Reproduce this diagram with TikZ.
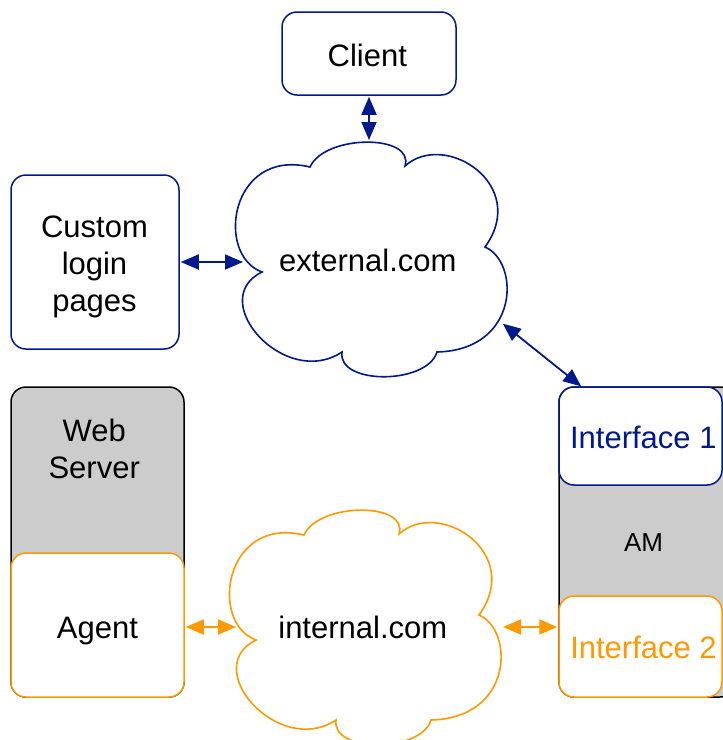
\documentclass[tikz,border=0pt]{standalone}
\usepackage{fontspec}
\setmainfont{Liberation Sans}
\usetikzlibrary{arrows.meta}
\definecolor{navy}{RGB}{0,25,140}
\definecolor{amber}{RGB}{255,153,0}
\definecolor{boxgray}{RGB}{204,204,204}
\begin{document}
\begin{tikzpicture}[x=1pt,y=-1pt,
  lbl/.style={anchor=base, inner sep=0pt, font=\fontsize{31}{37}\selectfont},
  rbox/.style={rounded corners=15pt, line width=1.5pt, inner sep=0pt, fill=white},
  graybox/.style={rbox, fill=boxgray, draw=black},
  conn/.style={line width=1.8pt, {Triangle[length=18pt,width=15pt]}-{Triangle[length=18pt,width=15pt]}, shorten <=1pt, shorten >=1pt},
  cloudline/.style={line width=1.6pt, fill=white, line join=miter}]
\useasboundingbox (0,0) rectangle (723,740);
\clip (0,0) rectangle (723,740);

% boxes
\node[rbox, draw=navy, minimum width=174pt, minimum height=83pt] (client) at (369,53.5) {};
\node[rbox, draw=navy, minimum width=168pt, minimum height=174pt] (custom) at (95,262) {};
\node[graybox, minimum width=173pt, minimum height=310pt] (web) at (97.5,542) {};
\node[rbox, draw=amber, minimum width=173pt, minimum height=144pt] (agent) at (97.5,625) {};
\node[graybox, minimum width=176pt, minimum height=310pt] (am) at (647,542) {};
\node[rbox, draw=navy, minimum width=163pt, minimum height=98pt] (i1) at (640.5,436) {};
\node[rbox, draw=amber, minimum width=163pt, minimum height=101pt] (i2) at (640.5,646.5) {};

% clouds
\draw[cloudline, draw=navy] (310,167) .. controls (325,134) and (415,134) .. (405,166)
 .. controls (445,130) and (530,185) .. (485,247)
 .. controls (520,262) and (520,350) .. (437,352)
 .. controls (427,385) and (337,385) .. (342,352)
 .. controls (285,390) and (205,300) .. (262,272)
 .. controls (215,255) and (230,148) .. (310,167) -- cycle;
\begin{scope}[shift={(-6,368)}]
\draw[cloudline, draw=amber] (310,167) .. controls (325,134) and (415,134) .. (405,166)
 .. controls (445,130) and (530,185) .. (485,247)
 .. controls (520,262) and (520,350) .. (437,352)
 .. controls (427,385) and (337,385) .. (342,352)
 .. controls (285,390) and (205,300) .. (262,272)
 .. controls (215,255) and (230,148) .. (310,167) -- cycle;
\end{scope}

% labels
\node[lbl] (clientt) at (367.3,66.7) {Client};
\node[lbl] (customt) at (94.5,237.7) {\begin{tabular}[t]{@{}c@{}}Custom\\login\\pages\end{tabular}};
\node[lbl] (webt) at (94.2,441.7) {\begin{tabular}[t]{@{}c@{}}Web\\Server\end{tabular}};
\node[lbl] (agentt) at (97.5,638.3) {Agent};
\node[lbl] (ext) at (367.8,271) {external.com};
\node[lbl] (int) at (362.8,638.3) {internal.com};
\node[lbl, text=navy] (i1t) at (643.3,448.3) {Interface 1};
\node[lbl, font=\fontsize{26}{31}\selectfont] (amt) at (643.5,551.7) {AM};
\node[lbl, text=amber] (i2t) at (643.5,658.3) {Interface 2};

% connector end points on the clouds / boxes
\coordinate (extN) at (369,141);
\coordinate (extW) at (244,262);
\coordinate (extSE) at (502,323);
\coordinate (i1a) at (582,387);
\coordinate (intW) at (237,627);
\coordinate (intE) at (502,627);

% connectors
\draw[conn, navy] (client.south) -- (extN);
\draw[conn, navy] (custom.east) -- (extW);
\draw[conn, navy] (extSE) -- (i1a);
\draw[conn, amber] (agent.east |- intW) -- (intW);
\draw[conn, amber] (intE) -- (i2.west |- intE);
\end{tikzpicture}
\end{document}
